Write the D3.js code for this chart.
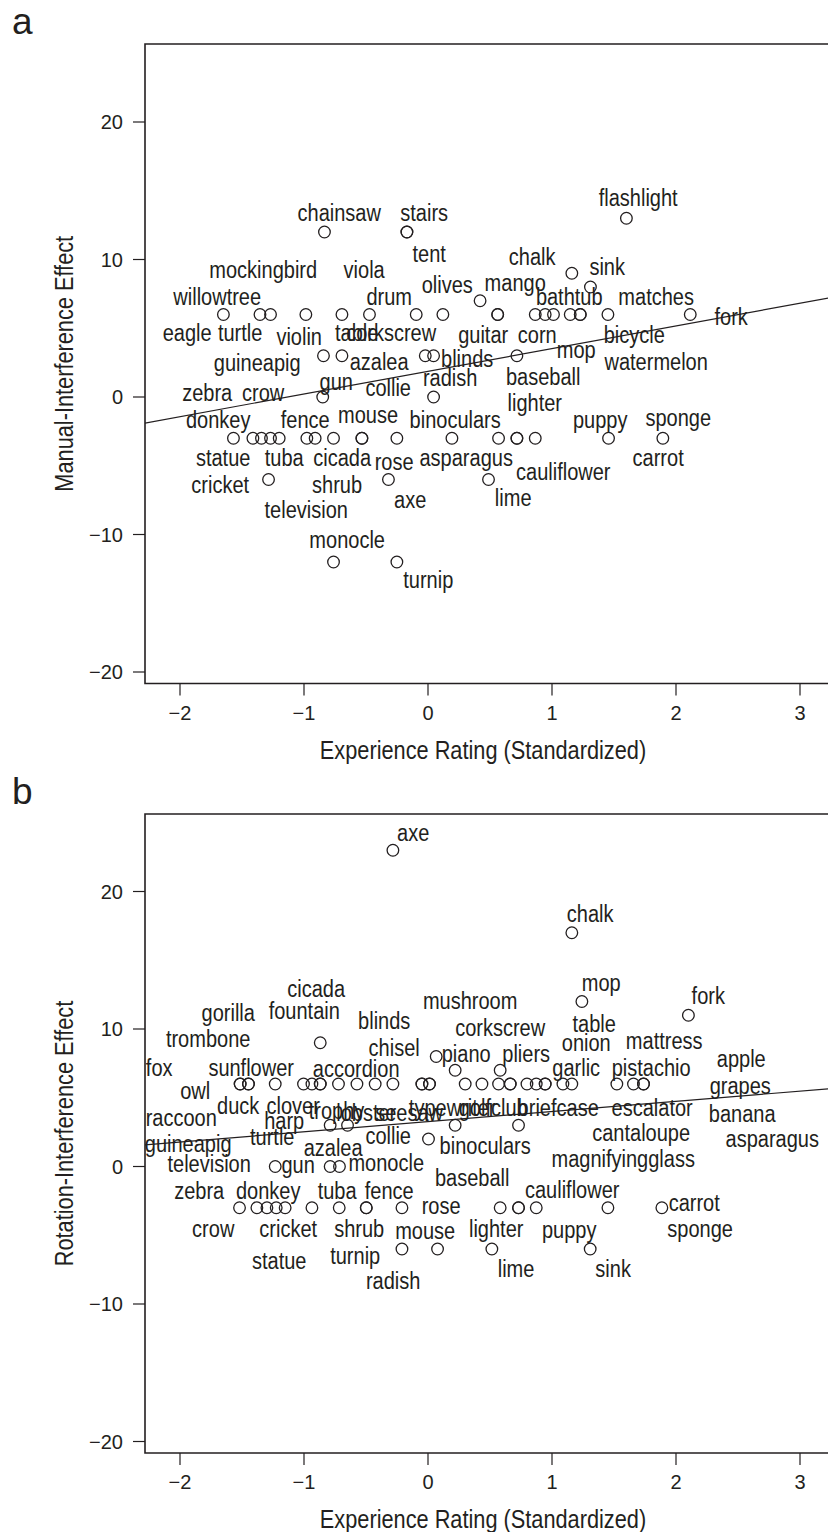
<!DOCTYPE html>
<html>
<head>
<meta charset="utf-8">
<script src="https://cdn.jsdelivr.net/npm/d3@7"></script>
<style>
  body { margin: 0; background: #fff; }
  svg { display: block; }
</style>
</head>
<body>
<svg id="fig" width="828" height="1532"></svg>
<script>
// each row: word, x, y, then where its label sits (also data units)
var puntosA = [
    ["flashlight", 1.60, 13, 1.695, 14.47],
    ["chainsaw", -0.835, 12, -0.716, 13.38],
    ["stairs", -0.17, 12, -0.031, 13.38],
    ["tent", -0.17, 12, 0.01, 10.4],
    ["chalk", 1.16, 9, 0.84, 10.18],
    ["sink", 1.31, 8, 1.445, 9.45],
    ["mango", 0.42, 7, 0.703, 8.29],
    ["olives", 0.12, 6, 0.155, 8.15],
    ["eagle", -1.65, 6, -1.942, 4.65],
    ["willowtree", -1.355, 6, -1.70, 7.27],
    ["turtle", -1.27, 6, -1.515, 4.65],
    ["mockingbird", -0.985, 6, -1.329, 9.24],
    ["violin", -0.694, 6, -1.039, 4.36],
    ["table", -0.472, 6, -0.575, 4.65],
    ["viola", -0.095, 6, -0.515, 9.24],
    ["drum", 0.562, 6, -0.313, 7.27],
    ["corkscrew", 0.562, 6, -0.297, 4.65],
    ["guitar", 0.865, 6, 0.445, 4.51],
    ["corn", 0.945, 6, 0.881, 4.51],
    ["bathtub", 1.012, 6, 1.139, 7.27],
    ["mop", 1.147, 6, 1.195, 3.42],
    ["bicycle", 1.228, 6, 1.663, 4.51],
    ["matches", 1.228, 6, 1.84, 7.27],
    ["watermelon", 1.451, 6, 1.84, 2.55],
    ["fork", 2.115, 6, 2.445, 5.82],
    ["guineapig", -0.843, 3, -1.377, 2.47],
    ["azalea", -0.694, 3, -0.394, 2.55],
    ["collie", -0.022, 3, -0.321, 0.65],
    ["blinds", 0.045, 3, 0.316, 2.76],
    ["baseball", 0.717, 3, 0.929, 1.45],
    ["gun", -0.849, 0, -0.74, 1.09],
    ["radish", 0.045, 0, 0.179, 1.38],
    ["zebra", -1.569, -3, -1.781, 0.29],
    ["donkey", -1.412, -3, -1.692, -1.67],
    ["statue", -1.343, -3, -1.652, -4.44],
    ["crow", -1.27, -3, -1.329, 0.29],
    ["cricket", -1.2, -3, -1.676, -6.4],
    ["tuba", -0.977, -3, -1.16, -4.44],
    ["fence", -0.91, -3, -0.99, -1.67],
    ["cicada", -0.762, -3, -0.692, -4.44],
    ["mouse", -0.533, -3, -0.483, -1.31],
    ["shrub", -0.533, -3, -0.733, -6.4],
    ["rose", -0.251, -3, -0.273, -4.73],
    ["binoculars", 0.193, -3, 0.219, -1.67],
    ["asparagus", 0.569, -3, 0.308, -4.44],
    ["lighter", 0.717, -3, 0.861, -0.44],
    ["cauliflower", 0.717, -3, 1.091, -5.45],
    ["carrot", 0.865, -3, 1.856, -4.44],
    ["puppy", 1.456, -3, 1.389, -1.67],
    ["sponge", 1.894, -3, 2.018, -1.53],
    ["television", -1.286, -6, -0.982, -8.22],
    ["axe", -0.319, -6, -0.144, -7.49],
    ["lime", 0.488, -6, 0.687, -7.35],
    ["monocle", -0.762, -12, -0.652, -10.4],
    ["turnip", -0.251, -12, 0.002, -13.31]
];

var puntosB = [
    ["axe", -0.283, 23, -0.119, 24.29],
    ["chalk", 1.16, 17, 1.308, 18.4],
    ["mop", 1.241, 12, 1.397, 13.38],
    ["fork", 2.10, 11, 2.26, 12.44],
    ["cicada", -0.869, 9, -0.902, 12.95],
    ["piano", 0.066, 8, 0.308, 8.22],
    ["chisel", 0.219, 7, -0.273, 8.65],
    ["pliers", 0.582, 7, 0.792, 8.22],
    ["fox", -1.515, 6, -2.168, 7.2],
    ["raccoon", -1.515, 6, -1.99, 3.56],
    ["guineapig", -1.448, 6, -1.934, 1.67],
    ["owl", -1.448, 6, -1.877, 5.53],
    ["trombone", -1.232, 6, -1.773, 9.31],
    ["gorilla", -1.004, 6, -1.611, 11.2],
    ["duck", -0.936, 6, -1.531, 4.44],
    ["sunflower", -0.869, 6, -1.426, 7.2],
    ["turtle", -0.869, 6, -1.256, 2.18],
    ["clover", -0.722, 6, -1.087, 4.44],
    ["fountain", -0.573, 6, -0.998, 11.35],
    ["trophy", -0.426, 6, -0.738, 4.07],
    ["accordion", -0.283, 6, -0.579, 7.13],
    ["lobster", -0.049, 6, -0.498, 3.93],
    ["blinds", -0.049, 6, -0.353, 10.62],
    ["seesaw", 0.012, 6, -0.152, 3.93],
    ["typewriter", 0.012, 6, 0.195, 4.29],
    ["mushroom", 0.3, 6, 0.34, 12.07],
    ["golfclub", 0.435, 6, 0.526, 4.29],
    ["corkscrew", 0.569, 6, 0.582, 10.11],
    ["briefcase", 0.663, 6, 1.05, 4.29],
    ["garlic", 0.663, 6, 1.195, 7.2],
    ["onion", 0.798, 6, 1.276, 9.02],
    ["table", 0.873, 6, 1.34, 10.4],
    ["magnifyingglass", 0.945, 6, 1.574, 0.58],
    ["pistachio", 0.945, 6, 1.8, 7.2],
    ["escalator", 1.088, 6, 1.808, 4.29],
    ["mattress", 1.16, 6, 1.905, 9.16],
    ["grapes", 1.523, 6, 2.518, 5.89],
    ["apple", 1.657, 6, 2.526, 7.85],
    ["banana", 1.738, 6, 2.534, 3.85],
    ["asparagus", 1.738, 6, 2.776, 2.04],
    ["harp", -0.789, 3, -1.16, 3.35],
    ["azalea", -0.649, 3, -0.765, 1.38],
    ["binoculars", 0.219, 3, 0.461, 1.53],
    ["cantaloupe", 0.73, 3, 1.719, 2.47],
    ["collie", 0.004, 2, -0.321, 2.25],
    ["gun", -1.232, 0, -1.047, 0.15],
    ["monocle", -0.789, 0, -0.337, 0.29],
    ["television", -0.714, 0, -1.765, 0.22],
    ["zebra", -1.52, -3, -1.845, -1.75],
    ["donkey", -1.38, -3, -1.289, -1.75],
    ["crow", -1.299, -3, -1.732, -4.51],
    ["cricket", -1.224, -3, -1.127, -4.51],
    ["statue", -1.152, -3, -1.2, -6.84],
    ["tuba", -0.936, -3, -0.733, -1.75],
    ["shrub", -0.716, -3, -0.555, -4.51],
    ["fence", -0.498, -3, -0.313, -1.75],
    ["turnip", -0.498, -3, -0.587, -6.47],
    ["rose", -0.21, -3, 0.106, -2.84],
    ["lighter", 0.582, -3, 0.55, -4.51],
    ["baseball", 0.73, -3, 0.356, -0.8],
    ["cauliflower", 0.73, -3, 1.163, -1.67],
    ["puppy", 0.873, -3, 1.139, -4.58],
    ["sponge", 1.451, -3, 2.195, -4.51],
    ["carrot", 1.886, -3, 2.147, -2.62],
    ["radish", -0.21, -6, -0.281, -8.29],
    ["mouse", 0.077, -6, -0.023, -4.65],
    ["lime", 0.515, -6, 0.71, -7.42],
    ["sink", 1.308, -6, 1.493, -7.42]
];

// fitted lines: intercept, slope
var rectaA = [1.87, 1.65];
var rectaB = [3.26, 0.741];

var marcasX = [-2, -1, 0, 1, 2, 3];
var marcasY = [-20, -10, 0, 10, 20];
var tituloX = "Experience Rating (Standardized)";
var tituloYA = "Manual-Interference Effect";
var tituloYB = "Rotation-Interference Effect";

var tinta = "#231f20";
var letra = "'Liberation Sans', Arial, Helvetica, sans-serif";
var estrecho = 0.87; // condensed look: squeeze the text sideways

var svg = d3.select("#fig");

var x = d3.scaleLinear().domain([-2, 3]).range([180, 800]);
var izq = 145, der = 900;

function textoEstrecho(g, px, py, rot, tam, cadena) {
    return g.append("text")
        .attr("transform", "translate(" + px + "," + py + ") rotate(" + rot + ") scale(" + estrecho + ",1)")
        .attr("dy", "0.36em")
        .attr("text-anchor", "middle")
        .style("font-family", letra)
        .style("font-size", tam + "px")
        .attr("fill", tinta)
        .text(cadena);
}

function dibujarPanel(arriba, desplazar, letraPanel, puntos, recta, tituloY, idClip) {
    var abajo = 683.5 + desplazar;
    var y = d3.scaleLinear().domain([-20, 20]).range([672 + desplazar, 122 + desplazar]);
    var g = svg.append("g");

    g.append("text")
        .attr("x", 12).attr("y", 34 + desplazar)
        .style("font-family", letra).style("font-size", "37px")
        .attr("fill", tinta)
        .text(letraPanel);

    g.append("clipPath").attr("id", idClip)
        .append("rect")
        .attr("x", izq).attr("y", arriba)
        .attr("width", der - izq).attr("height", abajo - arriba);

    // recta de regresion
    var x0 = x.invert(izq), x1 = x.invert(der);
    g.append("line")
        .attr("clip-path", "url(#" + idClip + ")")
        .attr("x1", x(x0)).attr("y1", y(recta[0] + recta[1] * x0))
        .attr("x2", x(x1)).attr("y2", y(recta[0] + recta[1] * x1))
        .attr("stroke", tinta).attr("stroke-width", 1.2);

    g.selectAll(".punto")
        .data(puntos)
        .enter().append("circle")
        .attr("class", "punto")
        .attr("cx", function (d) { return x(d[1]); })
        .attr("cy", function (d) { return y(d[2]); })
        .attr("r", 5.8)
        .attr("fill", "none")
        .attr("stroke", tinta)
        .attr("stroke-width", 1.3);

    puntos.forEach(function (d) {
        textoEstrecho(g, x(d[3]), y(d[4]), 0, 23, d[0]).attr("class", "palabra");
    });

    // caja
    g.append("path")
        .attr("d", "M" + der + "," + arriba + "H" + izq + "V" + abajo + "H" + der)
        .attr("fill", "none").attr("stroke", tinta).attr("stroke-width", 1.6);

    var ejeY = g.append("g");
    ejeY.selectAll("line").data(marcasY).enter().append("line")
        .attr("x1", izq - 12).attr("x2", izq)
        .attr("y1", function (d) { return y(d); })
        .attr("y2", function (d) { return y(d); })
        .attr("stroke", tinta).attr("stroke-width", 1.2);
    ejeY.selectAll("text").data(marcasY).enter().append("text")
        .attr("x", izq - 22)
        .attr("y", function (d) { return y(d); })
        .attr("dy", "0.36em")
        .attr("text-anchor", "end")
        .style("font-family", letra).style("font-size", "20px")
        .attr("fill", tinta)
        .text(function (d) { return d < 0 ? "\u2212" + Math.abs(d) : d; });

    var ejeX = g.append("g");
    ejeX.selectAll("line").data(marcasX).enter().append("line")
        .attr("x1", function (d) { return x(d); })
        .attr("x2", function (d) { return x(d); })
        .attr("y1", abajo).attr("y2", abajo + 12)
        .attr("stroke", tinta).attr("stroke-width", 1.2);
    ejeX.selectAll("text").data(marcasX).enter().append("text")
        .attr("x", function (d) { return x(d); })
        .attr("y", abajo + 36)
        .attr("text-anchor", "middle")
        .style("font-family", letra).style("font-size", "20px")
        .attr("fill", tinta)
        .text(function (d) { return d < 0 ? "\u2212" + Math.abs(d) : d; });

    textoEstrecho(g, 483, abajo + 66, 0, 25, tituloX);
    textoEstrecho(g, 64, (arriba + abajo) / 2, -90, 25, tituloY);
}

dibujarPanel(44, 0, "a", puntosA, rectaA, tituloYA, "clipA");
dibujarPanel(814, 769.5, "b", puntosB, rectaB, tituloYB, "clipB");
</script>
</body>
</html>
